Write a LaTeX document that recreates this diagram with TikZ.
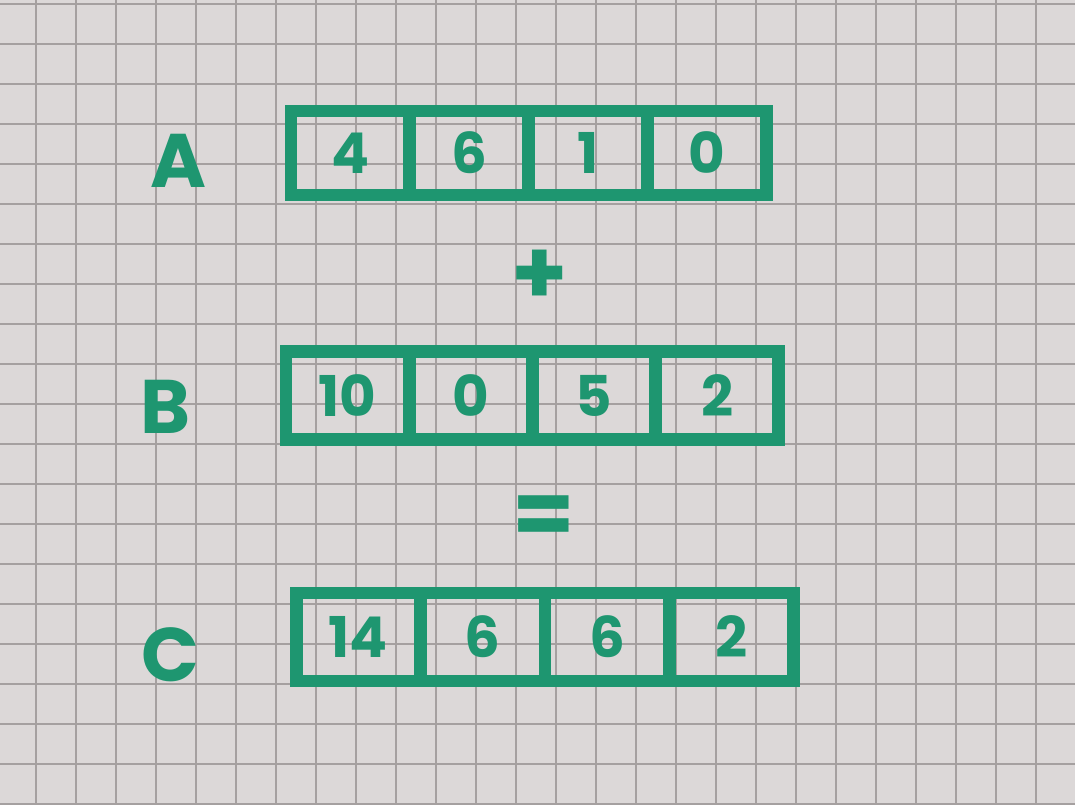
\documentclass[tikz,border=0pt]{standalone}
\usepackage{fontspec}
\setmainfont{Poppins}
\usetikzlibrary{positioning}
\definecolor{marker}{RGB}{30,150,112}
\definecolor{paper}{RGB}{220,216,216}
\definecolor{gridgrey}{RGB}{165,160,160}

\begin{document}
\begin{tikzpicture}[
  node distance=0pt,
  cell/.style={draw=marker,line width=9pt,minimum height=2.1cm,outer sep=0pt,inner sep=0pt,
    text=marker,font=\fontsize{40}{48}\selectfont\bfseries},
  arrayname/.style={text=marker,font=\fontsize{54}{60}\selectfont\bfseries},
  op/.style={text=marker,font=\fontsize{64}{70}\selectfont\bfseries},
  paperline/.style={draw=gridgrey,line width=0.9pt}
]
  % squared paper
  \fill[paper] (0,0) rectangle (26.875,20.125);
  \useasboundingbox (0,0) rectangle (26.875,20.125);
  \begin{scope}
    \clip (0,0) rectangle (26.875,20.125);
    \draw[paperline,shift={(0.9,0.025)}] (-1,-1) grid (27,21);
  \end{scope}

  % array A
  \node[arrayname] (nameA) at (4.45,16.1) {A};
  \node[cell,minimum width=2.97cm] (a1) at (8.76,16.3) {4};
  \node[cell,minimum width=2.97cm,right=of a1] (a2) {6};
  \node[cell,minimum width=2.97cm,right=of a2] (a3) {1};
  \node[cell,minimum width=2.97cm,right=of a3] (a4) {0};

  \node[op] (plus) at (13.5,13.2) {+};

  % array B
  \node[arrayname] (nameB) at (4.15,9.95) {B};
  \node[cell,minimum width=3.08cm,minimum height=2.2cm] (b1) at (8.69,10.23) {10};
  \node[cell,minimum width=3.08cm,minimum height=2.2cm,right=of b1] (b2) {0};
  \node[cell,minimum width=3.08cm,minimum height=2.2cm,right=of b2] (b3) {5};
  \node[cell,minimum width=3.08cm,minimum height=2.2cm,right=of b3] (b4) {2};

  \node[op] (equals) at (13.6,7.1) {=};

  % array C
  \node[arrayname] (nameC) at (4.25,3.75) {C};
  \node[cell,minimum width=3.11cm,minimum height=2.2cm] (c1) at (8.96,4.2) {14};
  \node[cell,minimum width=3.11cm,minimum height=2.2cm,right=of c1] (c2) {6};
  \node[cell,minimum width=3.11cm,minimum height=2.2cm,right=of c2] (c3) {6};
  \node[cell,minimum width=3.11cm,minimum height=2.2cm,right=of c3] (c4) {2};
\end{tikzpicture}
\end{document}
